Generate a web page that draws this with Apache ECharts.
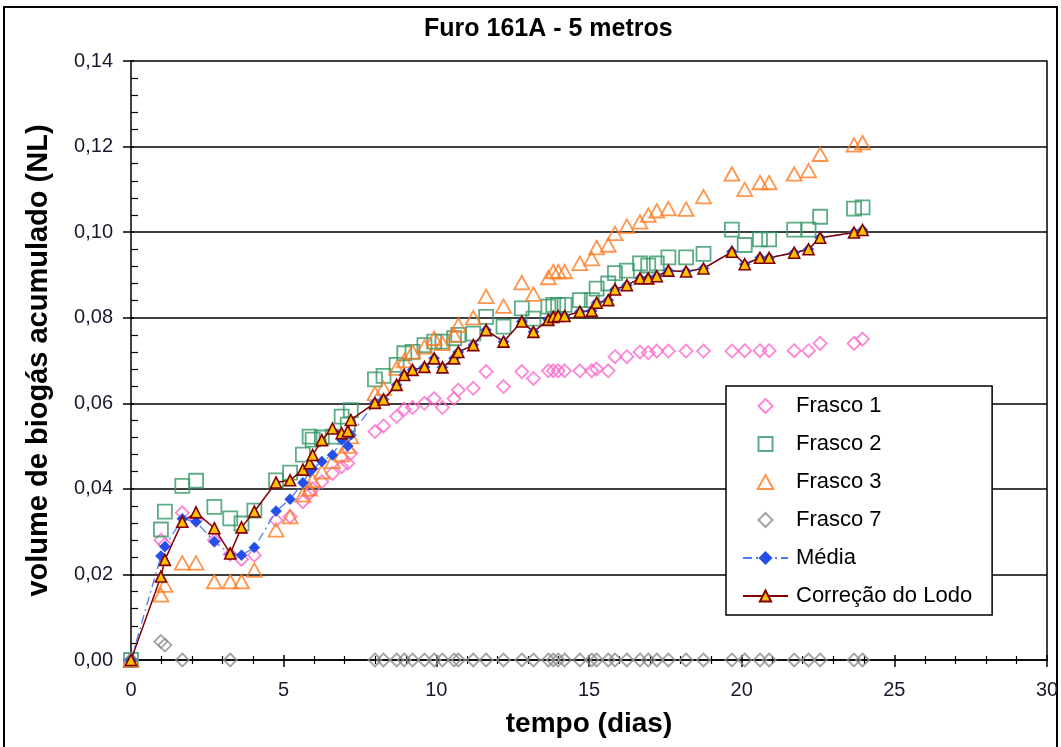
<!DOCTYPE html>
<html>
<head>
<meta charset="utf-8">
<script src="https://cdn.jsdelivr.net/npm/echarts@6/dist/echarts.min.js"></script>
<style>
  html, body { margin: 0; padding: 0; background: #fff; }
  #chart { width: 1061px; height: 747px; }
</style>
</head>
<body>
<div id="chart"></div>
<script>
// Tempo de cada leitura (dias)
const dias = [0, 0.98, 1.11, 1.68, 2.13, 2.73, 3.25, 3.62, 4.04, 4.75,
  5.21, 5.63, 5.85, 5.95, 6.25, 6.6, 6.9, 7.1, 7.2,
  7.99, 8.27, 8.7, 8.95, 9.22, 9.61, 9.93, 10.2, 10.58, 10.72, 11.21, 11.63,
  12.2, 12.8, 13.18, 13.67, 13.83, 13.99, 14.2, 14.7, 15.09, 15.25, 15.63, 15.85,
  16.24, 16.67, 16.94, 17.22, 17.6, 18.18, 18.75, 19.68, 20.1, 20.6, 20.9,
  21.72, 22.19, 22.57, 23.68, 23.96];

// Volume acumulado de biogás (NL)
const frasco1 = [0, 0.028, 0.027, 0.0344, 0.0327, 0.028, 0.0247, 0.0235, 0.0245, 0.0327,
  0.0335, 0.037, 0.039, 0.040, 0.0417, 0.0436, 0.0452, 0.046, 0.0483,
  0.0534, 0.0547, 0.0569, 0.0586, 0.059, 0.060, 0.0611, 0.059, 0.0611, 0.0631, 0.0635, 0.0674,
  0.0639, 0.0674, 0.0658, 0.0676, 0.0676, 0.0676, 0.0676, 0.0676, 0.0676, 0.068, 0.0676, 0.0709,
  0.0709, 0.072, 0.0718, 0.0722, 0.0722, 0.0722, 0.0722, 0.0722, 0.0723, 0.0723, 0.0723,
  0.0723, 0.0723, 0.074, 0.074, 0.075];

const frasco2 = [0, 0.0305, 0.0347, 0.0407, 0.0419, 0.0358, 0.0331, 0.0319, 0.0349, 0.042,
  0.0438, 0.048, 0.0522, 0.0515, 0.052, 0.0522, 0.0569, 0.055, 0.0584,
  0.0656, 0.0664, 0.069, 0.0717, 0.072, 0.0736, 0.0744, 0.0744, 0.0752, 0.076, 0.0763, 0.0802,
  0.0779, 0.0822, 0.0798, 0.0826, 0.083, 0.083, 0.083, 0.0841, 0.0841, 0.0868, 0.088, 0.0904,
  0.091, 0.0927, 0.0922, 0.0927, 0.0941, 0.0941, 0.0949, 0.1006, 0.097, 0.0983, 0.0983,
  0.1006, 0.1006, 0.1036, 0.1055, 0.1058];

const frasco3 = [0, 0.0152, 0.0175, 0.0227, 0.0227, 0.0183, 0.0183, 0.0183, 0.021, 0.0304,
  0.0335, 0.0386, 0.040, 0.042, 0.044, 0.0464, 0.048, 0.050, 0.0522,
  0.0623, 0.0635, 0.0682, 0.070, 0.072, 0.0732, 0.0752, 0.074, 0.076, 0.0783, 0.080, 0.085,
  0.0827, 0.0882, 0.0855, 0.0894, 0.0908, 0.0908, 0.0908, 0.0927, 0.0938, 0.0964, 0.097, 0.0997,
  0.1014, 0.1024, 0.104, 0.105, 0.1055, 0.1054, 0.1083, 0.1136, 0.110, 0.1116, 0.1116,
  0.1136, 0.1144, 0.1182, 0.1204, 0.1209];

const frasco7 = [0, 0.0043, 0.0035, 0, null, null, 0, null, null, null,
  null, null, null, null, null, null, null, null, null,
  0, 0, 0, 0, 0, 0, 0, 0, 0, 0, 0, 0,
  0, 0, 0, 0, 0, 0, 0, 0, 0, 0, 0, 0,
  0, 0, 0, 0, 0, 0, 0, 0, 0, 0, 0,
  0, 0, 0, 0, 0];

const media = [0, 0.0243, 0.0265, 0.033, 0.0323, 0.0277, 0.0247, 0.0245, 0.0263, 0.0348,
  0.0376, 0.0414, 0.044, 0.0447, 0.0464, 0.0479, 0.0515, 0.050, 0.0526,
  0.0601, 0.0609, 0.0643, 0.0666, 0.0678, 0.0685, 0.0705, 0.0684, 0.0705, 0.072, 0.0736, 0.0771,
  0.0744, 0.0791, 0.0767, 0.0795, 0.0802, 0.0804, 0.0804, 0.0814, 0.0816, 0.0835, 0.0841, 0.0866,
  0.0876, 0.0892, 0.0892, 0.0897, 0.091, 0.0908, 0.0915, 0.0954, 0.0925, 0.094, 0.094,
  0.0952, 0.096, 0.0987, 0.0999, 0.1005];

const correcaoLodo = [0, 0.0195, 0.0234, 0.0323, 0.0345, 0.0308, 0.0249, 0.031, 0.0347, 0.0415,
  0.042, 0.0445, 0.046, 0.0479, 0.0514, 0.0541, 0.053, 0.0535, 0.0561,
  0.0601, 0.0609, 0.0643, 0.0666, 0.0678, 0.0685, 0.0705, 0.0684, 0.0705, 0.072, 0.0736, 0.0771,
  0.0744, 0.0791, 0.0767, 0.0795, 0.0802, 0.0804, 0.0804, 0.0814, 0.0816, 0.0835, 0.0841, 0.0866,
  0.0876, 0.0892, 0.0892, 0.0897, 0.091, 0.0908, 0.0915, 0.0954, 0.0925, 0.094, 0.094,
  0.0952, 0.096, 0.0987, 0.0999, 0.1005];

const seriesNames = ['Frasco 1', 'Frasco 2', 'Frasco 3', 'Frasco 7', 'Média', 'Correção do Lodo'];

function pontos(valores) {
  const out = [];
  dias.forEach((d, i) => { if (valores[i] != null) out.push([d, valores[i]]); });
  return out;
}

const FONT = 'Liberation Sans, Arial, sans-serif';

// Marker outlines as paths so the legend keeps their proportions
const DIAMANTE = 'path://M5,0L10,5L5,10L0,5Z';
const QUADRADO = 'path://M0,0L10,0L10,10L0,10Z';
const TRIANGULO = 'path://M5,0L10,9L0,9Z';

function hollow(name, symbol, size, color, data) {
  return {
    name, type: 'scatter', data: pontos(data),
    symbol, symbolSize: size, symbolKeepAspect: true,
    itemStyle: { color: 'rgba(255,255,255,0)', borderColor: color, borderWidth: 1.8 },
    emphasis: { disabled: true }
  };
}

const chart = echarts.init(document.getElementById('chart'), null, { renderer: 'canvas' });

const xBase = { type: 'value', min: 0, max: 30, interval: 5, gridIndex: 0, position: 'bottom' };
const yBase = { type: 'value', min: 0, max: 0.14, interval: 0.02, gridIndex: 0 };

chart.setOption({
  animation: false,
  backgroundColor: '#fff',
  title: {
    text: 'Furo 161A - 5 metros',
    left: 419, top: 12,
    textStyle: { fontFamily: FONT, fontSize: 25, fontWeight: 'bold', color: '#000' }
  },
  grid: { left: 131, right: 14, top: 61, bottom: 87, outerBoundsMode: 'none', containLabel: false },
  graphic: [{
    type: 'rect', shape: { x: 4, y: 7, width: 1053, height: 760 },
    style: { fill: 'none', stroke: '#000', lineWidth: 2 }, silent: true
  }],
  legend: {
    orient: 'vertical',
    left: 726, top: 386,
    padding: [9, 20, 8, 16],
    itemWidth: 45, itemHeight: 14, itemGap: 16,
    symbolKeepAspect: true,
    backgroundColor: '#fff', borderColor: '#000', borderWidth: 1.5,
    textStyle: { fontFamily: FONT, fontSize: 22, color: '#000', padding: [0, 0, 0, 3] },
    data: seriesNames
  },
  xAxis: [
    Object.assign({}, xBase, {
      name: 'tempo (dias)', nameLocation: 'middle', nameGap: 50,
      nameTextStyle: { fontFamily: FONT, fontSize: 28, fontWeight: 'bold', color: '#000' },
      axisLine: { show: true, onZero: false, lineStyle: { color: '#000', width: 1.5 } },
      axisTick: { show: true, inside: false, length: 7, lineStyle: { color: '#000', width: 1.5 } },
      minorTick: { show: true, splitNumber: 5, length: 4, lineStyle: { color: '#000', width: 1.2 } },
      axisLabel: { fontFamily: FONT, fontSize: 20, color: '#1a1a2e', margin: 20 },
      splitLine: { show: false }
    }),
    Object.assign({}, xBase, {
      axisLine: { show: false },
      axisTick: { show: true, inside: true, length: 5, lineStyle: { color: '#000', width: 1.5 } },
      minorTick: { show: true, splitNumber: 5, length: 4, lineStyle: { color: '#000', width: 1.2 } },
      axisLabel: { show: false },
      splitLine: { show: false }
    })
  ],
  yAxis: [
    Object.assign({}, yBase, {
      position: 'left',
      name: 'volume de biogás acumulado (NL)', nameLocation: 'middle', nameGap: 78,
      nameTextStyle: { fontFamily: FONT, fontSize: 29, fontWeight: 'bold', color: '#000' },
      axisLine: { show: true, onZero: false, lineStyle: { color: '#000', width: 1.5 } },
      axisTick: { show: true, inside: false, length: 8, lineStyle: { color: '#000', width: 1.5 } },
      axisLabel: {
        fontFamily: FONT, fontSize: 20, color: '#1a1a2e', margin: 18,
        formatter: v => v.toFixed(2).replace('.', ',')
      },
      splitLine: { show: true, lineStyle: { color: '#000', width: 1.5 } }
    }),
    Object.assign({}, yBase, {
      position: 'left',
      axisLine: { show: false },
      axisTick: { show: true, inside: true, length: 3, lineStyle: { color: '#000', width: 1.5 } },
      minorTick: { show: true, splitNumber: 5, length: 7, lineStyle: { color: '#000', width: 1.2 } },
      axisLabel: { show: false },
      splitLine: { show: false }
    }),
    Object.assign({}, yBase, {
      position: 'right',
      axisLine: { show: true, onZero: false, lineStyle: { color: '#000', width: 1.5 } },
      axisTick: { show: false },
      axisLabel: { show: false },
      splitLine: { show: false }
    })
  ],
  series: [
    hollow('Frasco 1', DIAMANTE, 13, '#ff66cc', frasco1),
    hollow('Frasco 2', QUADRADO, 14, '#339966', frasco2),
    hollow('Frasco 3', TRIANGULO, 15, '#ff7a21', frasco3),
    hollow('Frasco 7', DIAMANTE, 13, '#8c8c8c', frasco7),
    {
      name: 'Média', type: 'line', data: pontos(media),
      symbol: 'diamond', symbolSize: 11, showAllSymbol: true,
      lineStyle: { color: '#4d7dff', width: 1.3, type: [9, 4, 2, 4] },
      itemStyle: { color: '#2250e8', borderColor: '#2250e8', borderWidth: 0.5 },
      emphasis: { disabled: true }
    },
    {
      name: 'Correção do Lodo', type: 'line', data: pontos(correcaoLodo),
      symbol: 'triangle', symbolSize: 11, showAllSymbol: true,
      lineStyle: { color: '#800000', width: 1.5 },
      itemStyle: { color: '#ffc000', borderColor: '#800000', borderWidth: 1.6 },
      emphasis: { disabled: true }
    }
  ]
});
</script>
</body>
</html>
